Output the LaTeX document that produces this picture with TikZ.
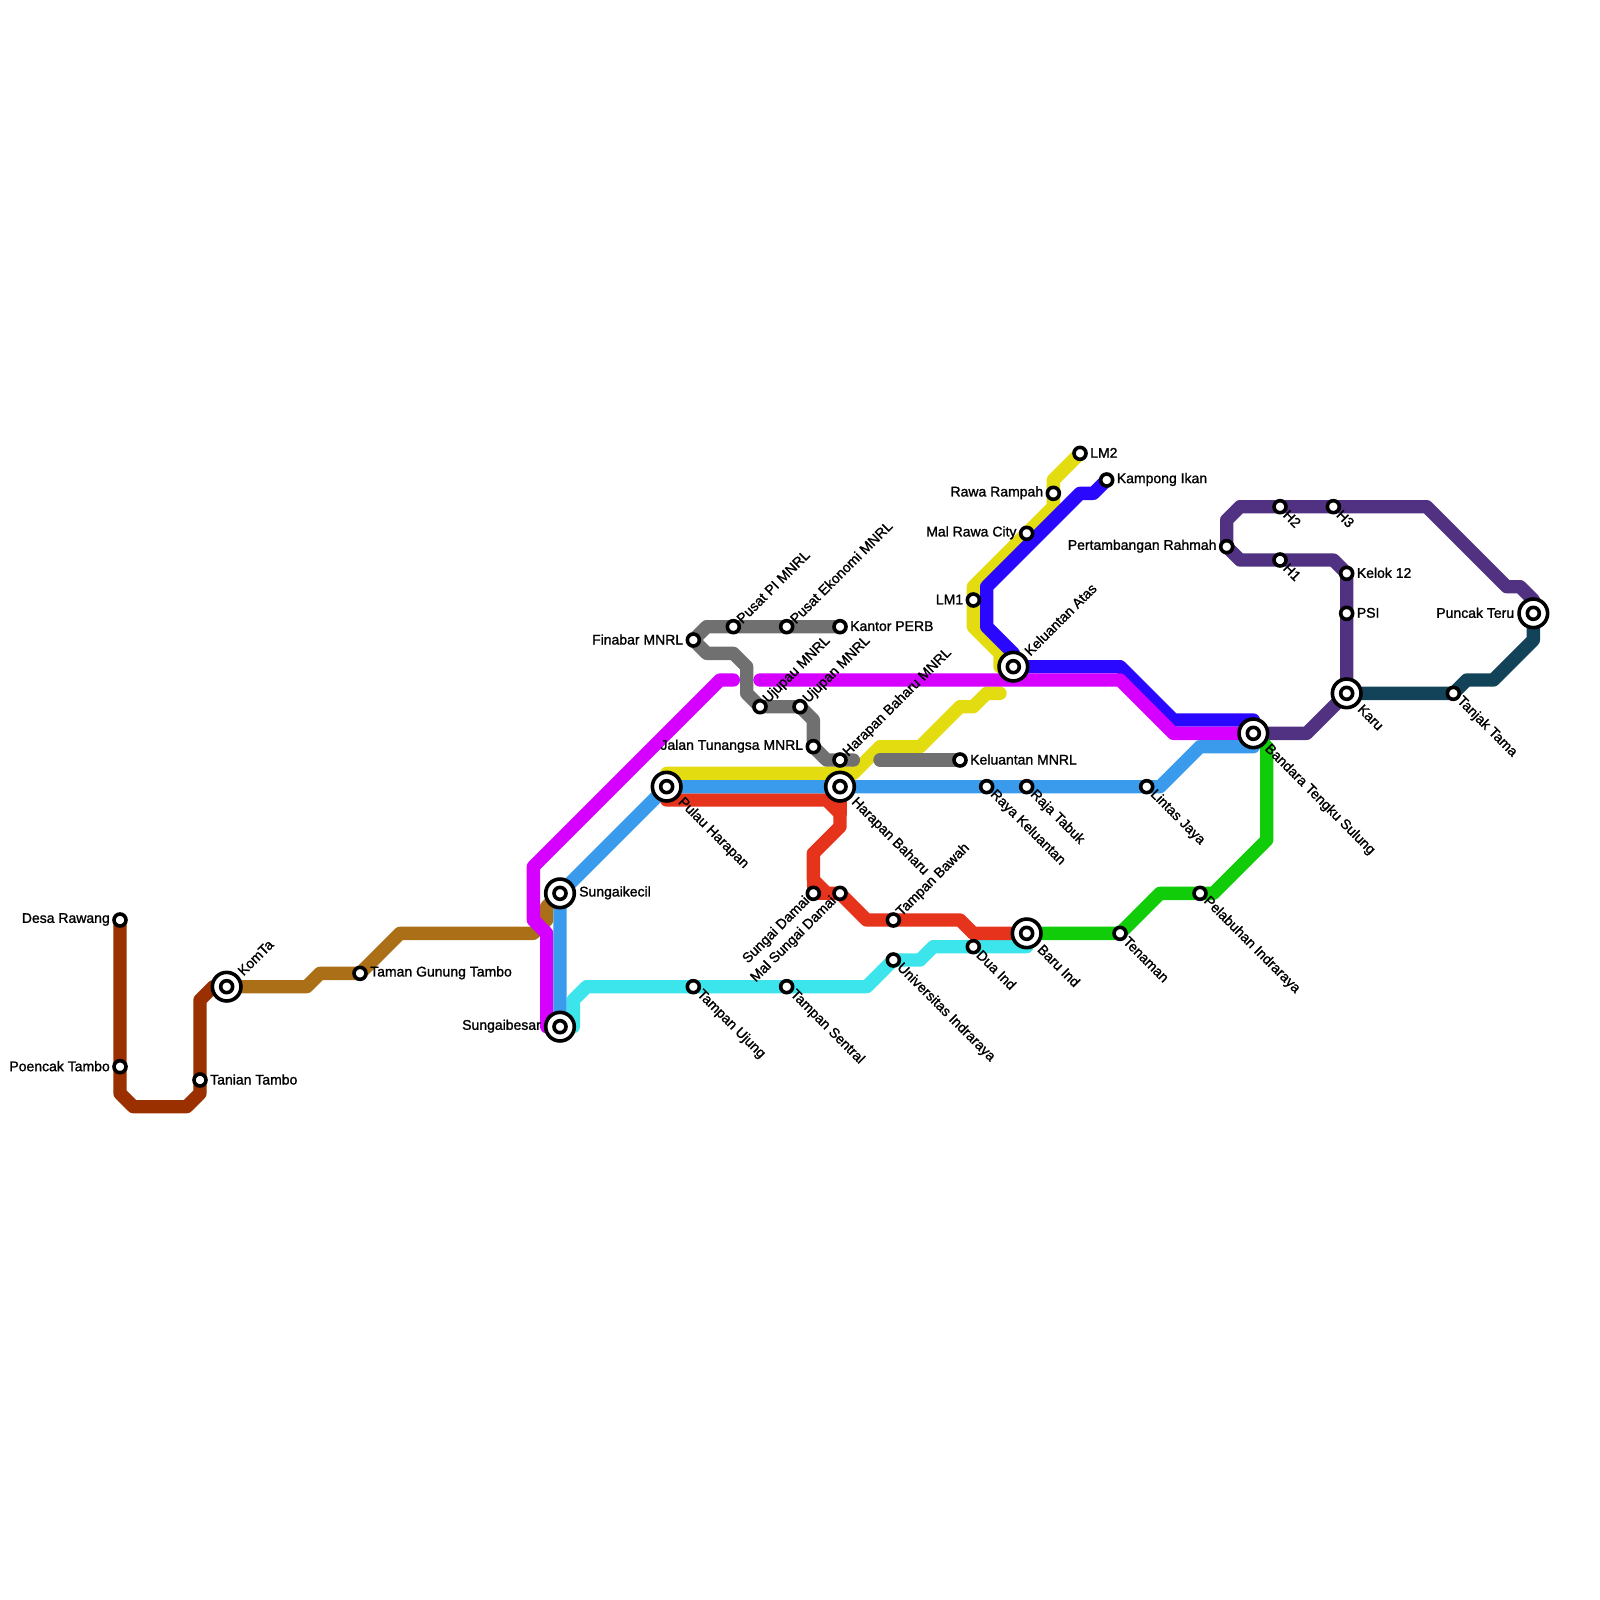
\documentclass[tikz,border=0pt]{standalone}
\usepackage{fontspec}
\usepackage{tikz}
\usetikzlibrary{backgrounds}
\newfontfamily\stnfont[FakeBold=1.3]{Liberation Sans}
\definecolor{ln-rust}{HTML}{9A2F00}
\definecolor{ln-ochre}{HTML}{AB6F18}
\definecolor{ln-violet}{HTML}{D500FF}
\definecolor{ln-sky}{HTML}{3A9BEC}
\definecolor{ln-lemon}{HTML}{E2DC10}
\definecolor{ln-indigo}{HTML}{2A07FF}
\definecolor{ln-grey}{HTML}{707070}
\definecolor{ln-red}{HTML}{E6331C}
\definecolor{ln-aqua}{HTML}{3BE5EB}
\definecolor{ln-green}{HTML}{10CC09}
\definecolor{ln-plum}{HTML}{513181}
\definecolor{ln-teal}{HTML}{134359}

\begin{document}
\begin{tikzpicture}[x=13.333pt, y=-13.333pt,
      metro/.style={line width=13.333pt, line cap=round, line join=round},
      stn/.style={circle, draw=black, fill=white, line width=3.6pt,
                  minimum size=12pt, inner sep=0pt},
      hub/.style={circle, draw=black, fill=white, line width=3.6pt,
                  minimum size=28.6pt, inner sep=0pt,
                  path picture={\draw[line width=3.6pt]
                    (path picture bounding box.center) circle (6pt);}},
      lab/.style={font=\stnfont\fontsize{14}{15}\selectfont, inner ysep=0pt, inner xsep=10pt},
      labr/.style={lab, anchor=west, yshift=0.5pt},
      labl/.style={lab, anchor=east, yshift=0.5pt},
      labne/.style={lab, anchor=west, rotate=45, inner xsep=8pt},
      labse/.style={lab, anchor=west, rotate=-45, inner xsep=8pt},
      labsw/.style={lab, anchor=east, rotate=45, inner xsep=8pt},
      far/.style={inner xsep=19pt}]
    \useasboundingbox (0,0) rectangle (120,120);
    % stations, west to east
    \node[stn] (desa) at (9,69) {};
    \node[labl] (desat) at (desa) {Desa Rawang};
    \node[stn] (poencak) at (9,80) {};
    \node[labl] (poencakt) at (poencak) {Poencak Tambo};
    \node[stn] (tanian) at (15,81) {};
    \node[labr] (taniant) at (tanian) {Tanian Tambo};
    \node[hub] (komta) at (17,74) {};
    \node[labne, far] (komtat) at (komta) {KomTa};
    \node[stn] (taman) at (27,73) {};
    \node[labr] (tamant) at (taman) {Taman Gunung Tambo};
    \node[hub] (skecil) at (42,67) {};
    \node[labr, far] (skecilt) at (skecil) {Sungaikecil};
    \node[hub] (sbesar) at (42,77) {};
    \node[labl, far] (sbesart) at (sbesar) {Sungaibesar};
    \node[hub] (pulau) at (50,59) {};
    \node[labse, far] (pulaut) at (pulau) {Pulau Harapan};
    \node[hub] (hbaharu) at (63,59) {};
    \node[labse, far] (hbaharut) at (hbaharu) {Harapan Baharu};
    \node[stn] (finabar) at (52,48) {};
    \node[labl] (finabart) at (finabar) {Finabar MNRL};
    \node[stn] (pusatpi) at (55,47) {};
    \node[labne] (pusatpit) at (pusatpi) {Pusat PI MNRL};
    \node[stn] (pusatek) at (59,47) {};
    \node[labne] (pusatekt) at (pusatek) {Pusat Ekonomi MNRL};
    \node[stn] (kantor) at (63,47) {};
    \node[labr] (kantort) at (kantor) {Kantor PERB};
    \node[stn] (ujupau) at (57,53) {};
    \node[labne] (ujupaut) at (ujupau) {Ujupau MNRL};
    \node[stn] (ujupan) at (60,53) {};
    \node[labne] (ujupant) at (ujupan) {Ujupan MNRL};
    \node[stn] (jalan) at (61,56) {};
    \node[labl] (jalant) at (jalan) {Jalan Tunangsa MNRL};
    \node[stn] (hbmnrl) at (63,57) {};
    \node[labne] (hbmnrlt) at (hbmnrl) {Harapan Baharu MNRL};
    \node[stn] (kmnrl) at (72,57) {};
    \node[labr] (kmnrlt) at (kmnrl) {Keluantan MNRL};
    \node[stn] (raya) at (74,59) {};
    \node[labse] (rayat) at (raya) {Raya Keluantan};
    \node[stn] (raja) at (77,59) {};
    \node[labse] (rajat) at (raja) {Raja Tabuk};
    \node[stn] (lintas) at (86,59) {};
    \node[labse] (lintast) at (lintas) {Lintas Jaya};
    \node[hub] (bandara) at (94,55) {};
    \node[labse, far] (bandarat) at (bandara) {Bandara Tengku Sulung};
    \node[hub] (katas) at (76,50) {};
    \node[labne, far] (katast) at (katas) {Keluantan Atas};
    \node[stn] (lm1) at (73,45) {};
    \node[labl] (lm1t) at (lm1) {LM1};
    \node[stn] (malrawa) at (77,40) {};
    \node[labl] (malrawat) at (malrawa) {Mal Rawa City};
    \node[stn] (rawa) at (79,37) {};
    \node[labl] (rawat) at (rawa) {Rawa Rampah};
    \node[stn] (lm2) at (81,34) {};
    \node[labr] (lm2t) at (lm2) {LM2};
    \node[stn] (kampong) at (83,36) {};
    \node[labr] (kampongt) at (kampong) {Kampong Ikan};
    \node[stn] (sdamai) at (61,67) {};
    \node[labsw] (sdamait) at (sdamai) {Sungai Damai};
    \node[stn] (msdamai) at (63,67) {};
    \node[labsw] (msdamait) at (msdamai) {Mal Sungai Damai};
    \node[stn] (tbawah) at (67,69) {};
    \node[labne] (tbawaht) at (tbawah) {Tampan Bawah};
    \node[stn] (dua) at (73,71) {};
    \node[labse] (duat) at (dua) {Dua Ind};
    \node[hub] (baru) at (77,70) {};
    \node[labse, far] (barut) at (baru) {Baru Ind};
    \node[stn] (tenaman) at (84,70) {};
    \node[labse] (tenamant) at (tenaman) {Tenaman};
    \node[stn] (pelabuhan) at (90,67) {};
    \node[labse] (pelabuhant) at (pelabuhan) {Pelabuhan Indraraya};
    \node[stn] (univ) at (67,72) {};
    \node[labse] (univt) at (univ) {Universitas Indraraya};
    \node[stn] (tujung) at (52,74) {};
    \node[labse] (tujungt) at (tujung) {Tampan Ujung};
    \node[stn] (tsentral) at (59,74) {};
    \node[labse] (tsentralt) at (tsentral) {Tampan Sentral};
    \node[stn] (rahmah) at (92,41) {};
    \node[labl] (rahmaht) at (rahmah) {Pertambangan Rahmah};
    \node[stn] (h1) at (96,42) {};
    \node[labse] (h1t) at (h1) {H1};
    \node[stn] (h2) at (96,38) {};
    \node[labse] (h2t) at (h2) {H2};
    \node[stn] (h3) at (100,38) {};
    \node[labse] (h3t) at (h3) {H3};
    \node[stn] (kelok) at (101,43) {};
    \node[labr] (kelokt) at (kelok) {Kelok 12};
    \node[stn] (psi) at (101,46) {};
    \node[labr] (psit) at (psi) {PSI};
    \node[hub] (karu) at (101,52) {};
    \node[labse, far] (karut) at (karu) {Karu};
    \node[stn] (tanjak) at (109,52) {};
    \node[labse] (tanjakt) at (tanjak) {Tanjak Tama};
    \node[hub] (puncak) at (115,46) {};
    \node[labl, far] (puncakt) at (puncak) {Puncak Teru};
    % lines go under the stations
    \begin{scope}[on background layer]
      \draw[metro, ln-rust] (desa.center) -- (poencak.center) -- (9,82) -- (10,83) -- (14,83)
        -- (15,82) -- (tanian.center) -- (15,75) -- (16,74) -- (komta.center);
      \draw[metro, ln-ochre] (komta.center) -- (23,74) -- (24,73) -- (taman.center) -- (30,70)
        -- (40,70) -- (41,69) -- (41,68) -- (skecil.center);
      \draw[metro, ln-plum] (bandara.center) -- (98,55) -- (karu.center) -- (psi.center)
        -- (kelok.center) -- (100,42) -- (h1.center) -- (93,42) -- (rahmah.center) -- (92,39)
        -- (93,38) -- (h2.center) -- (h3.center) -- (107,38) -- (113,44) -- (114,44)
        -- (115,45) -- (puncak.center);
      \draw[metro, ln-teal] (karu.center) -- (tanjak.center) -- (110,51) -- (112,51)
        -- (115,48) -- (puncak.center);
      \draw[metro, ln-green] (baru.center) -- (tenaman.center) -- (87,67) -- (pelabuhan.center)
        -- (91,67) -- (95,63) -- (95,56) -- (bandara.center);
      \draw[metro, ln-aqua] (baru.center) -- (77,71) -- (dua.center) -- (70,71) -- (69,72)
        -- (univ.center) -- (65,74) -- (tsentral.center) -- (tujung.center) -- (44,74)
        -- (43,75) -- (43,77) -- (sbesar.center);
      \draw[metro, ln-red] (pulau.center) -- (50,60) -- (62,60) -- (63,61) -- (63,62) -- (61,64)
        -- (61,66) -- (62,67) -- (msdamai.center) -- (65,69) -- (tbawah.center) -- (72,69)
        -- (73,70) -- (baru.center);
      \draw[metro, ln-red] (hbaharu.center) -- (63,61);
      \draw[metro, ln-red] (61,66) -- (sdamai.center) -- (msdamai.center);
      \draw[metro, ln-lemon] (pulau.center) -- (50,58) -- (64,58) -- (66,56) -- (69,56) -- (72,53)
        -- (73,53) -- (74,52) -- (75,52);
      \draw[metro, ln-lemon] (katas.center) -- (75,50) -- (75,49) -- (73,47) -- (lm1.center)
        -- (73,44) -- (malrawa.center) -- (79,38) -- (rawa.center) -- (79,36) -- (lm2.center);
      \draw[metro, ln-grey] (finabar.center) -- (53,47) -- (pusatpi.center) -- (pusatek.center)
        -- (kantor.center);
      \draw[metro, ln-grey] (finabar.center) -- (53,49) -- (55,49) -- (56,50) -- (56,52)
        -- (ujupau.center) -- (ujupan.center) -- (61,54) -- (jalan.center) -- (62,57)
        -- (hbmnrl.center) -- (64,57);
      \draw[metro, ln-grey] (66,57) -- (kmnrl.center);
      \draw[metro, ln-indigo] (kampong.center) -- (82,37) -- (81,37) -- (74,44) -- (74,47)
        -- (76,49) -- (katas.center) -- (84,50) -- (88,54) -- (94,54) -- (bandara.center);
      \draw[metro, ln-violet] (55,51) -- (54,51) -- (40,65) -- (40,69) -- (41,70) -- (41,77)
        -- (sbesar.center);
      \draw[metro, ln-violet] (57,51) -- (84,51) -- (88,55) -- (bandara.center);
      \draw[metro, ln-sky] (sbesar.center) -- (skecil.center) -- (pulau.center)
        -- (hbaharu.center) -- (raya.center) -- (raja.center) -- (lintas.center) -- (87,59)
        -- (90,56) -- (94,56) -- (bandara.center);
    \end{scope}
\end{tikzpicture}
\end{document}
